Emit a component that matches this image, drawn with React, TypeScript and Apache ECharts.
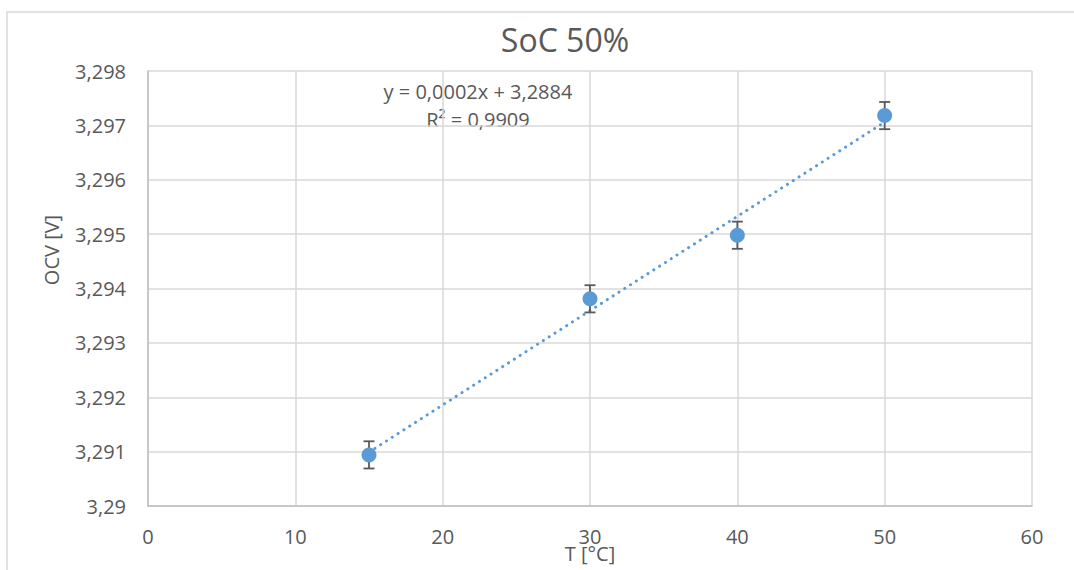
import React, { useEffect, useRef } from "react";
import * as echarts from "echarts";

const temperatures = [15, 30, 40, 50];
const ocvValues = [3.29094, 3.29381, 3.29498, 3.29718];
const ocvErrors = [0.00025, 0.00025, 0.00025, 0.00025];
const trendX = [15, 50];
const trendY = [3.29099, 3.29706];
const xTicks = [0, 10, 20, 30, 40, 50, 60];
const yTicks = [3.29, 3.291, 3.292, 3.293, 3.294, 3.295, 3.296, 3.297, 3.298];

const titleText = "SoC 50%";
const xName = "T [°C]";
const yName = "OCV [V]";
const equationText = "y = 0,0002x + 3,2884";
const r2Text = "R² = 0,9909";

const FONT = "'Open Sans', sans-serif";
const TXT = "#595959";

export default function App() {
  const ref = useRef<HTMLDivElement>(null);
  useEffect(() => {
    if (!ref.current) return;
    const chart = echarts.init(ref.current, undefined, { renderer: "svg" });
    const fmtY = (v: number) => String(Number(v.toFixed(3))).replace(".", ",");
    const scatterData = temperatures.map((t, i) => [t, ocvValues[i]]);
    const errData = temperatures.map((t, i) => [t, ocvValues[i] - ocvErrors[i], ocvValues[i] + ocvErrors[i]]);
    const trendData = trendX.map((x, i) => [x, trendY[i]]);
    chart.setOption({
      animation: false,
      backgroundColor: "#ffffff",
      grid: { left: 148, top: 71, right: 42, bottom: 64, containLabel: false },
      xAxis: {
        type: "value",
        min: xTicks[0],
        max: xTicks[xTicks.length - 1],
        interval: 10,
        axisLine: { show: true, lineStyle: { color: "#bfbfbf", width: 1.5 } },
        axisTick: { show: false },
        splitLine: { show: true, lineStyle: { color: "#d9d9d9", width: 1.5 } },
        axisLabel: { color: TXT, fontFamily: FONT, fontSize: 20, margin: 20 },
      },
      yAxis: {
        type: "value",
        min: yTicks[0],
        max: yTicks[yTicks.length - 1],
        interval: 0.001,
        axisLine: { show: true, lineStyle: { color: "#bfbfbf", width: 1.5 } },
        axisTick: { show: false },
        splitLine: { show: true, lineStyle: { color: "#d9d9d9", width: 1.5 } },
        axisLabel: { color: TXT, fontFamily: FONT, fontSize: 20, margin: 22, formatter: fmtY },
      },
      graphic: [
        {
          type: "rect",
          shape: { x: 7, y: 12, width: 1100, height: 600 },
          style: { fill: "none", stroke: "#d9d9d9", lineWidth: 1.5 },
          z: -1,
        },
        {
          type: "text",
          x: 565,
          y: 39,
          style: { text: titleText, fill: TXT, font: `32px ${FONT}`, align: "center", verticalAlign: "middle" },
        },
        {
          type: "text",
          x: 478,
          y: 91,
          style: { text: equationText, fill: TXT, font: `20px ${FONT}`, align: "center", verticalAlign: "middle" },
        },
        {
          type: "text",
          x: 478,
          y: 119,
          style: { text: r2Text, fill: TXT, font: `20px ${FONT}`, align: "center", verticalAlign: "middle" },
        },
        {
          type: "text",
          x: 590,
          y: 553,
          style: { text: xName, fill: TXT, font: `20px ${FONT}`, align: "center", verticalAlign: "middle" },
        },
        {
          type: "text",
          x: 51,
          y: 250,
          rotation: Math.PI / 2,
          style: { text: yName, fill: TXT, font: `20px ${FONT}`, align: "center", verticalAlign: "middle" },
        },
      ],
      series: [
        {
          type: "line",
          data: trendData,
          symbol: "none",
          lineStyle: { color: "#5b9bd5", width: 3, type: [0.1, 6.8], cap: "round" },
          z: 2,
        },
        {
          type: "custom",
          data: errData,
          z: 3,
          renderItem: (params: any, api: any) => {
            const x = api.value(0);
            const lo = api.coord([x, api.value(1)]);
            const hi = api.coord([x, api.value(2)]);
            const hw = 5.5;
            const style = { stroke: "#595959", lineWidth: 1.8 };
            return {
              type: "group",
              children: [
                { type: "line", shape: { x1: lo[0], y1: lo[1], x2: hi[0], y2: hi[1] }, style },
                { type: "line", shape: { x1: lo[0] - hw, y1: lo[1], x2: lo[0] + hw, y2: lo[1] }, style },
                { type: "line", shape: { x1: hi[0] - hw, y1: hi[1], x2: hi[0] + hw, y2: hi[1] }, style },
              ],
            };
          },
        },
        {
          type: "scatter",
          data: scatterData,
          symbol: "circle",
          symbolSize: 15,
          itemStyle: { color: "#5b9bd5", opacity: 1 },
          z: 4,
        },
      ],
    });
    return () => chart.dispose();
  }, []);
  return <div ref={ref} style={{ position: "fixed", left: 0, top: 0, width: 1074, height: 570 }} />;
}
